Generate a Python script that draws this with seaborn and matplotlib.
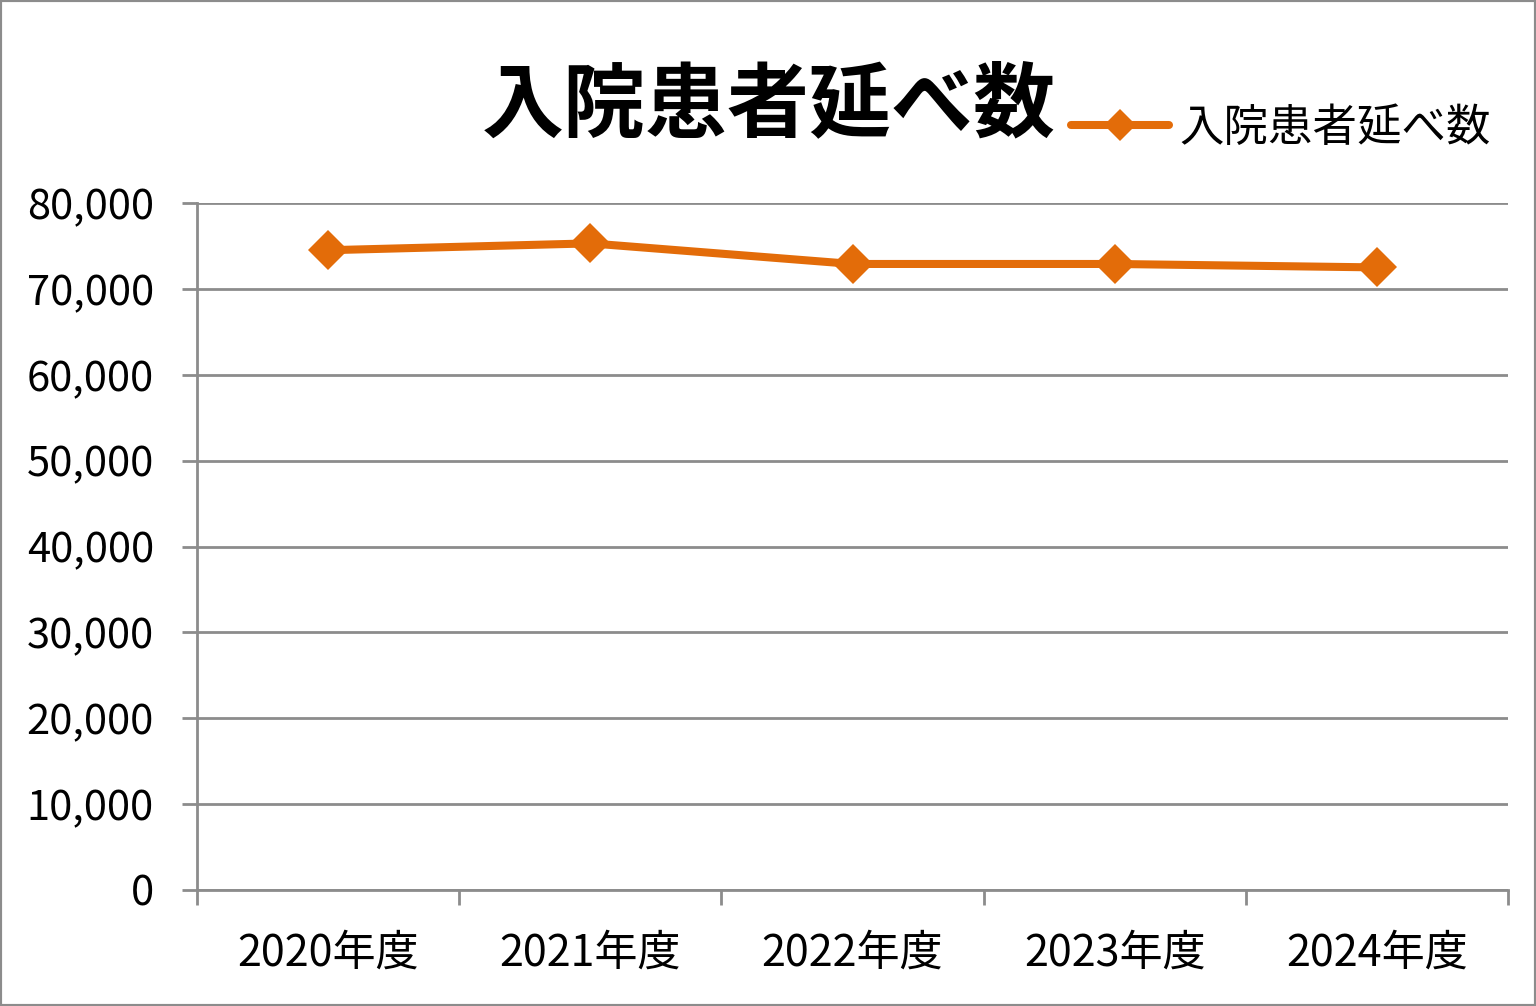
import pandas as pd
import numpy as np
import matplotlib
matplotlib.use("Agg")
import matplotlib.pyplot as plt
import seaborn as sns
from matplotlib.ticker import FuncFormatter, FixedLocator
from matplotlib.patches import Rectangle

# data
years = ["2020年度", "2021年度", "2022年度", "2023年度", "2024年度"]
patients = [74500, 75300, 72900, 72900, 72500]
series_name = "入院患者延べ数"

sns.set_theme(style="white")
plt.rcParams["font.family"] = ["Noto Sans CJK JP", "DejaVu Sans"]
plt.rcParams["text.color"] = "black"

df = pd.DataFrame({"year": years, "value": patients})

fig = plt.figure(figsize=(15.36, 10.06), dpi=100)
ax = fig.add_axes([197 / 1536, 116 / 1006, 1311 / 1536, 687 / 1006])

orange = "#E36C09"
grid_gray = "#8C8C8C"

sns.lineplot(data=df, x="year", y="value", ax=ax, color=orange,
             linewidth=5.8, marker="D", markersize=20,
             markeredgewidth=0, label=series_name, legend=False)

ax.set_xlim(-0.5, 4.5)
ax.set_ylim(0, 80000)
ax.set_yticks(np.arange(0, 80001, 10000))
ax.yaxis.set_major_formatter(FuncFormatter(lambda v, p: f"{int(v):,}"))
ax.grid(axis="y", color=grid_gray, linewidth=2)
ax.set_axisbelow(True)
ax.set_xlabel("")
ax.set_ylabel("")

for side in ["top", "right"]:
    ax.spines[side].set_visible(False)
for side in ["left", "bottom"]:
    ax.spines[side].set_color(grid_gray)
    ax.spines[side].set_linewidth(2)

# category boundary ticks on x, outward ticks on y
ax.xaxis.set_minor_locator(FixedLocator(np.arange(-0.5, 5, 1)))
ax.tick_params(axis="x", which="major", length=0, pad=30, labelsize=31,
               labelcolor="black")
ax.tick_params(axis="x", which="minor", length=11, width=2, color=grid_gray,
               direction="out", bottom=True)
ax.tick_params(axis="y", length=11, width=2, color=grid_gray, direction="out",
               left=True, pad=20, labelsize=30, labelcolor="black")

fig.text(769 / 1536, 1 - 106 / 1006, series_name, fontsize=59,
         fontweight="bold", ha="center", va="center", color="black")

fig.legend(loc="center left", bbox_to_anchor=(1071 / 1536, 1 - 128 / 1006),
           frameon=False, fontsize=32, handlelength=2.2, handletextpad=0.25,
           borderaxespad=0, borderpad=0, markerscale=0.8, labelcolor="black")

fig.patches.append(Rectangle((0, 0), 1, 1, transform=fig.transFigure,
                             fill=False, edgecolor="#8C8C8C", linewidth=3))

fig.savefig("out.png", dpi=100)
